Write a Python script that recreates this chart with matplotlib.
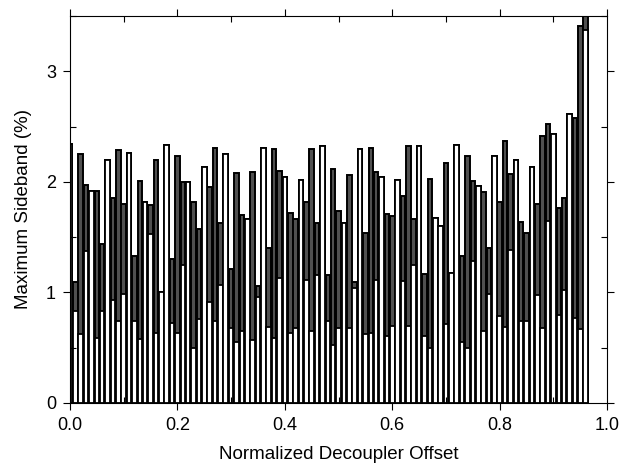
import numpy as np
import matplotlib
matplotlib.use("Agg")
import matplotlib.pyplot as plt
from matplotlib.ticker import MultipleLocator

plt.rcParams['font.family'] = ['Liberation Sans', 'DejaVu Sans']

# normalized decoupler offsets, one bar every 0.01
offset = np.round(np.arange(97) * 0.01, 2)

# top of each bar (maximum sideband, %)
peak = [2.34, 1.09, 2.25, 1.97, 1.92, 1.92, 1.44, 2.20, 1.85, 2.29,
        1.80, 2.26, 1.33, 2.01, 1.82, 1.79, 2.20, 1.00, 2.33, 1.30,
        2.23, 2.00, 2.00, 1.82, 1.57, 2.13, 1.95, 2.31, 1.63, 2.25,
        1.21, 2.08, 1.70, 1.66, 2.09, 1.06, 2.31, 1.40, 2.30, 2.10,
        2.04, 1.72, 1.66, 2.02, 1.82, 2.30, 1.63, 2.32, 1.16, 2.12,
        1.74, 1.63, 2.06, 1.09, 2.30, 1.54, 2.31, 2.09, 2.04, 1.71,
        1.69, 2.02, 1.87, 2.32, 1.66, 2.32, 1.17, 2.03, 1.67, 1.60,
        2.17, 1.18, 2.33, 1.33, 2.23, 2.01, 1.96, 1.91, 1.40, 2.23,
        1.82, 2.37, 2.07, 2.20, 1.64, 1.54, 2.13, 1.80, 2.41, 2.52,
        2.43, 1.76, 1.85, 2.61, 2.58, 3.41, 3.60]

# height of the open (white) lower part of each bar
inner = [2.34, 0.83, 0.62, 1.37, 1.92, 0.59, 0.83, 2.20, 0.93, 0.74,
         0.99, 2.26, 0.74, 0.58, 1.82, 1.53, 0.63, 1.00, 2.33, 0.72,
         0.63, 1.25, 2.00, 0.50, 0.76, 2.13, 0.91, 0.74, 1.07, 2.25,
         0.68, 0.55, 0.65, 1.66, 0.57, 0.96, 2.31, 0.69, 0.59, 1.13,
         2.04, 0.63, 0.68, 2.02, 1.11, 0.65, 1.16, 2.32, 0.74, 0.52,
         0.68, 1.63, 0.68, 1.04, 2.30, 0.62, 0.63, 1.11, 2.04, 0.61,
         0.70, 2.02, 1.10, 0.70, 1.25, 2.32, 0.61, 0.50, 1.67, 1.60,
         0.71, 1.18, 2.33, 0.55, 0.50, 1.28, 1.96, 0.65, 0.99, 2.23,
         0.79, 0.69, 1.38, 2.20, 0.74, 0.74, 2.13, 0.98, 0.68, 1.65,
         2.43, 0.80, 1.02, 2.61, 0.77, 0.67, 3.37]

fig = plt.figure(figsize=(6.21, 4.72), dpi=100)
ax = fig.add_axes([0.1127, 0.1462, 0.865, 0.82])

w = 0.0085
ax.bar(offset, peak, width=w, color='#505050', edgecolor='black', linewidth=1.4)
ax.bar(offset, inner, width=w, color='white', edgecolor='black', linewidth=1.3)

ax.set_xlim(0, 1.0)
ax.set_ylim(0, 3.5)
ax.xaxis.set_minor_locator(MultipleLocator(0.1))
ax.yaxis.set_major_locator(MultipleLocator(1))
ax.yaxis.set_minor_locator(MultipleLocator(0.5))
ax.set_xticks(np.arange(0, 1.01, 0.2))
ax.set_xticklabels(['0.0', '0.2', '0.4', '0.6', '0.8', '1.0'])

ax.tick_params(axis='both', which='major', direction='out', length=5,
               labelsize=13, top=True, right=True, width=0.8, pad=5)
ax.tick_params(axis='both', which='minor', direction='in', length=4,
               top=True, right=True, width=0.8)
for s in ax.spines.values():
    s.set_linewidth(0.8)

ax.set_xlabel('Normalized Decoupler Offset', fontsize=13.5, labelpad=9)
ax.set_ylabel('Maximum Sideband (%)', fontsize=13.5, labelpad=10)

fig.savefig('out.png', dpi=100)
